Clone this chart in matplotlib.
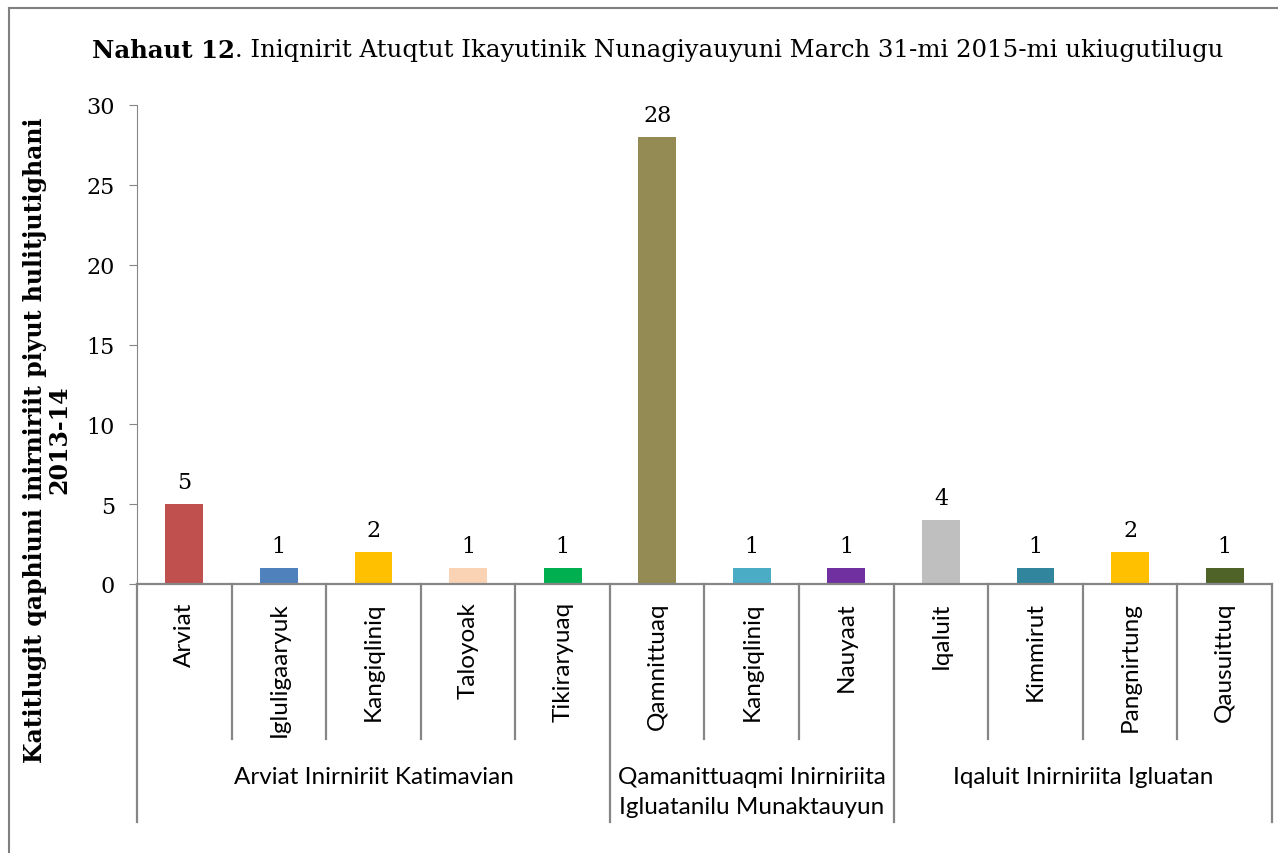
import matplotlib
matplotlib.use("Agg")
import matplotlib.pyplot as plt
from matplotlib.lines import Line2D

# Chart values
communities = ["Arviat", "Igluligaaryuk", "Kangiqliniq", "Taloyoak", "Tikiraryuaq",
               "Qamnittuaq", "Kangiqliniq", "Nauyaat",
               "Iqaluit", "Kimmirut", "Pangnirtung", "Qausuittuq"]
counts = [5, 1, 2, 1, 1, 28, 1, 1, 4, 1, 2, 1]
bar_colors = ["#C0504D", "#4F81BD", "#FFC000", "#FAD3B4", "#00B050",
              "#948A54", "#4BACC6", "#7030A0",
              "#BFBFBF", "#31859C", "#FFC000", "#4F6228"]
groups = ["Arviat Inirniriit Katimavian",
          "Qamanittuaqmi Inirniriita\nIgluatanilu Munaktauyun",
          "Iqaluit Inirniriita Igluatan"]
group_sizes = [5, 3, 4]
y_ticks = [0, 5, 10, 15, 20, 25, 30]

title_bold = "Nahaut 12"
title_rest = ". Iniqnirit Atuqtut Ikayutinik Nunagiyauyuni March 31-mi 2015-mi ukiugutilugu"
y_label = "Katitlugit qaphiuni inirniriit piyut hulitjutighani\n2013-14"

serif = "DejaVu Serif"
sans = "Lato"
axis_grey = "#868686"

fig = plt.figure(figsize=(12.78, 8.54), dpi=100)
ax = fig.add_axes([137 / 1278, 1 - 585 / 854, (1272 - 137) / 1278, (585 - 106) / 854])

x = list(range(len(communities)))
ax.bar(x, counts, width=0.4, color=bar_colors, zorder=2)
ax.set_xlim(-0.5, len(communities) - 0.5)
ax.set_ylim(0, 30)

# value labels above the bars
for xi, v in zip(x, counts):
    ax.annotate(str(v), (xi, v), xytext=(0, 8), textcoords="offset points",
                ha="center", va="bottom", fontsize=16, family=serif)

# axes styling
for side in ["top", "right"]:
    ax.spines[side].set_visible(False)
ax.spines["left"].set_color(axis_grey)
ax.spines["bottom"].set_color(axis_grey)
ax.spines["bottom"].set_linewidth(1.6)
ax.set_yticks(y_ticks)
ax.set_yticklabels([str(t) for t in y_ticks], family=serif, fontsize=16)
ax.tick_params(axis="y", length=6, color=axis_grey, pad=10)
ax.set_xticks([])

# category labels (rotated) and separators
trans = ax.get_xaxis_transform()
for xi, name in zip(x, communities):
    ax.text(xi, -0.036, name, rotation=90, ha="center", va="top",
            fontsize=17.5, family=sans, transform=trans)

boundaries = [0]
for n in group_sizes:
    boundaries.append(boundaries[-1] + n)
for b in range(len(communities) + 1):
    low = -0.497 if b in boundaries else -0.324
    ax.add_line(Line2D([b - 0.5, b - 0.5], [0, low], transform=trans,
                       color=axis_grey, lw=1.6, clip_on=False))

# group labels
for i, g in enumerate(groups):
    mid = (boundaries[i] + boundaries[i + 1]) / 2 - 0.5
    ax.text(mid, -0.38, g, ha="center", va="top", fontsize=17.5, family=sans,
            linespacing=1.52, transform=trans)

# y-axis title, placed as in the picture (not centred on the axis)
fig.text(47 / 1278, 1 - 440 / 854, y_label, family=serif, fontsize=17, fontweight="bold",
         rotation=90, ha="center", va="center", multialignment="center", linespacing=1.05)

# title: bold part followed by regular part
t1 = fig.text(92 / 1278, 1 - 51 / 854, title_bold, family=serif, fontsize=17.6,
              fontweight="bold", va="center", ha="left")
fig.canvas.draw()
bb = t1.get_window_extent()
fig.text(bb.x1 / fig.bbox.width, 1 - 51 / 854, title_rest, family=serif, fontsize=17.6,
         va="center", ha="left")

# outer frame edges visible in the picture
fig.add_artist(Line2D([9 / 1278, 1], [1 - 9 / 854, 1 - 9 / 854], color="#808080", lw=1.5))
fig.add_artist(Line2D([9 / 1278, 9 / 1278], [0, 1 - 9 / 854], color="#808080", lw=1.5))

fig.savefig("out.png", dpi=100)
